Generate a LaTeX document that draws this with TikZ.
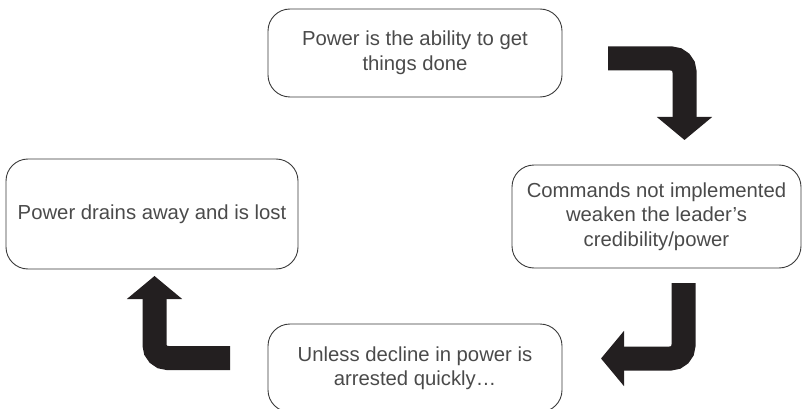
\documentclass[tikz,border=0pt]{standalone}
\usepackage{fontspec}
\setmainfont{Liberation Sans}
\usetikzlibrary{arrows.meta}

\definecolor{ink}{HTML}{231F20}
\definecolor{linegray}{HTML}{3A3A3A}
\definecolor{textgray}{HTML}{4A4A4A}

\begin{document}
\begin{tikzpicture}[
		x=1pt, y=-1pt,
		stage/.style={draw=linegray, line width=0.9pt, rounded corners=22pt, align=center,
			inner sep=0pt, text=textgray, font=\fontsize{20.3}{24.5}\selectfont},
		turn/.style={draw=ink, line width=24pt, rounded corners=13pt,
			-{Triangle[length=23pt,width=54pt]}}]
		\useasboundingbox (0,0) rectangle (803,409);
		\clip (0,0) rectangle (803,409);

		\node[stage, minimum width=294pt, minimum height=88pt]  (ability)  at (415,53)    {Power is the ability to get\\things done};
		\node[stage, minimum width=289pt, minimum height=103pt] (commands) at (656.5,216.5) {Commands not implemented\\weaken the leader’s\\credibility/power};
		\node[stage, minimum width=294pt, minimum height=88pt]  (unless)   at (415,368)   {Unless decline in power is\\arrested quickly…};
		\node[stage, minimum width=292pt, minimum height=110pt] (drains)   at (152,214)   {Power drains away and is lost};

		% ends of the bent arrows between the boxes
		\coordinate (t1) at (608,58.5);
		\coordinate (t2) at (684.5,140);
		\coordinate (r1) at (683.5,283);
		\coordinate (r2) at (601,358.5);
		\coordinate (l1) at (230,358);
		\coordinate (l2) at (154.5,276);

		\draw[turn] (t1) -| (t2);
		\draw[turn] (r1) |- (r2);
		\draw[turn] (l1) -| (l2);
\end{tikzpicture}
\end{document}
